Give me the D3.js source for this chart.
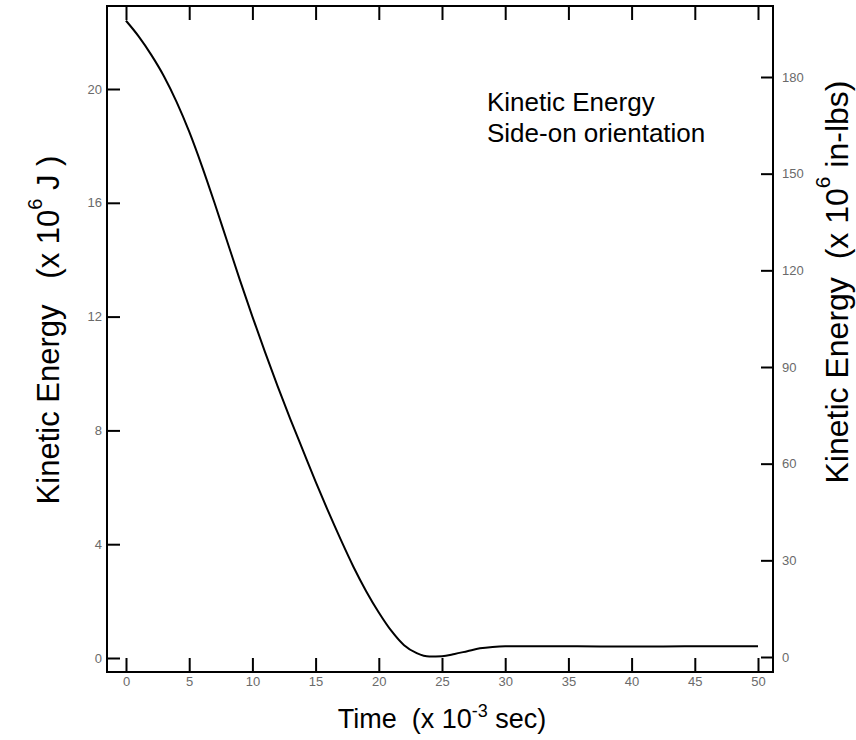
<!DOCTYPE html>
<html>
<head>
<meta charset="utf-8">
<script src="https://cdn.jsdelivr.net/npm/d3@7"></script>
<style>
  html, body { margin: 0; padding: 0; background: #fff; }
  svg { display: block; }
  text { white-space: pre; }
</style>
</head>
<body>
<svg id="chart" width="856" height="740"></svg>
<script>
// ---- data ----
const timeMs = [0, 1, 2, 3, 4, 5, 6, 7, 8, 9, 10, 11, 12, 13, 14, 15, 16, 17, 18, 19, 20,
                21, 22, 23, 24, 25, 26, 27, 28, 29, 30, 35, 40, 45, 50];
const energyMJ = [22.4, 21.85, 21.2, 20.45, 19.55, 18.5, 17.3, 16.0, 14.65, 13.3, 12.0,
                  10.75, 9.55, 8.4, 7.3, 6.2, 5.15, 4.15, 3.2, 2.35, 1.6,
                  0.95, 0.45, 0.17, 0.05, 0.06, 0.14, 0.24, 0.34, 0.39, 0.41, 0.41, 0.40, 0.41, 0.41];
const xTicks = [0, 5, 10, 15, 20, 25, 30, 35, 40, 45, 50];
const leftTicks = [0, 4, 8, 12, 16, 20];
const rightTicks = [0, 30, 60, 90, 120, 150, 180];
const annotationLines = ["Kinetic Energy", "Side-on orientation"];

// ---- layout ----
const frame = { left: 107, right: 773, top: 6, bottom: 672 };
const FONT = '"Liberation Sans", Arial, Helvetica, sans-serif';

const x = d3.scaleLinear().domain([0, 50]).range([126, 758]);
const yL = d3.scaleLinear().domain([0, 20]).range([658, 89]);
const yR = d3.scaleLinear().domain([0, 180]).range([657, 77]);

const svg = d3.select("#chart");

// frame
svg.append("rect")
  .attr("x", frame.left).attr("y", frame.top)
  .attr("width", frame.right - frame.left).attr("height", frame.bottom - frame.top)
  .attr("fill", "none").attr("stroke", "#000").attr("stroke-width", 2);

function styleAxis(g) {
  g.select(".domain").remove();
  g.selectAll(".tick line").attr("stroke", "#000").attr("stroke-width", 2);
  g.selectAll(".tick text").attr("fill", "#6a6a6a").attr("font-size", 13).attr("font-family", FONT);
}

// bottom axis
svg.append("g").attr("transform", `translate(0,${frame.bottom})`)
  .call(d3.axisBottom(x).tickValues(xTicks).tickSize(-14).tickPadding(5).tickFormat(d3.format("d")))
  .call(styleAxis);

// top axis (ticks only)
svg.append("g").attr("transform", `translate(0,${frame.top})`)
  .call(d3.axisTop(x).tickValues(xTicks).tickSize(-14).tickFormat(""))
  .call(styleAxis);

// left axis
svg.append("g").attr("transform", `translate(${frame.left},0)`)
  .call(d3.axisLeft(yL).tickValues(leftTicks).tickSize(-13).tickPadding(5).tickFormat(d3.format("d")))
  .call(styleAxis);

// right axis
svg.append("g").attr("transform", `translate(${frame.right},0)`)
  .call(d3.axisRight(yR).tickValues(rightTicks).tickSize(-12).tickPadding(9).tickFormat(d3.format("d")))
  .call(styleAxis);

// curve
const line = d3.line()
  .x((d, i) => x(timeMs[i]))
  .y(d => yL(d))
  .curve(d3.curveMonotoneX);

svg.append("path")
  .datum(energyMJ)
  .attr("d", line)
  .attr("fill", "none")
  .attr("stroke", "#000")
  .attr("stroke-width", 2);

// annotation
const ann = svg.append("text")
  .attr("x", 487).attr("y", 111)
  .attr("font-family", FONT).attr("font-size", 26).attr("fill", "#000");
annotationLines.forEach((t, i) => {
  ann.append("tspan").attr("x", 487).attr("dy", i === 0 ? 0 : 31).text(t);
});

// bottom axis title
const xt = svg.append("text")
  .attr("x", 442).attr("y", 728)
  .attr("text-anchor", "middle")
  .attr("font-family", FONT).attr("font-size", 27).attr("fill", "#000");
xt.append("tspan").text("Time  (x 10");
xt.append("tspan").attr("font-size", 18).attr("dy", -11).text("-3");
xt.append("tspan").attr("dy", 11).text(" sec)");

// left axis title
const lt = svg.append("text")
  .attr("transform", "translate(59,330) rotate(-90)")
  .attr("text-anchor", "middle")
  .attr("font-family", FONT).attr("font-size", 31).attr("fill", "#000");
lt.append("tspan").text("Kinetic Energy   (x 10");
lt.append("tspan").attr("font-size", 20).attr("dy", -17).text("6");
lt.append("tspan").attr("dy", 17).text(" J )");

// right axis title
const rt = svg.append("text")
  .attr("transform", "translate(848,282) rotate(-90)")
  .attr("text-anchor", "middle")
  .attr("font-family", FONT).attr("font-size", 32).attr("fill", "#000");
rt.append("tspan").text("Kinetic Energy  (x 10");
rt.append("tspan").attr("font-size", 21).attr("dy", -18).text("6");
rt.append("tspan").attr("dy", 18).text(" in-lbs)");
</script>
</body>
</html>
